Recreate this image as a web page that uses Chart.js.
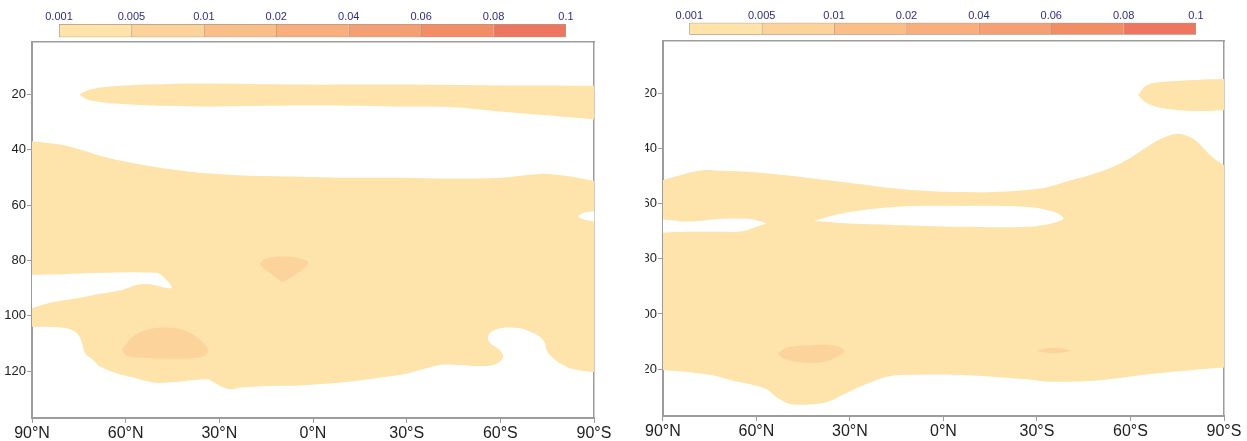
<!DOCTYPE html>
<html>
<head>
<meta charset="utf-8">
<script src="https://cdn.jsdelivr.net/npm/chart.js@4/dist/chart.umd.min.js"></script>
<style>
  html, body { margin: 0; padding: 0; background: #fff; }
  body { width: 1247px; height: 441px; position: relative; overflow: hidden; }
  canvas { position: absolute; top: 0; }
</style>
</head>
<body>
<canvas id="leftPanel" width="620" height="441" style="left:0px"></canvas>
<canvas id="leftBar" width="620" height="42" style="left:0px"></canvas>
<canvas id="rightPanel" width="603" height="441" style="left:644px"></canvas>
<canvas id="rightBar" width="603" height="42" style="left:644px"></canvas>
<script>
// Colour-scale boundaries (shown above each panel)
const colorbarLevels = ['0.001', '0.005', '0.01', '0.02', '0.04', '0.06', '0.08', '0.1'];

// Axis ticks
const latTicks = [90, 60, 30, 0, -30, -60, -90];
const latTickLabels = ['90°N', '60°N', '30°N', '0°N', '30°S', '60°S', '90°S'];
const levelTicks = [20, 40, 60, 80, 100, 120];
const levelRange = [1, 137];

// Contour outlines, [latitude (°N positive), model level]
// Left panel
const leftUpperBand = [
  [74.9, 20.0], [71.4, 18.2], [65.0, 17.1], [52.2, 16.4], [36.2, 16.0], [4.2, 16.4],
  [-27.9, 16.4], [-59.9, 16.75], [-85, 16.8], [-90, 16.8], [-92, 16.8], [-92, 29.2],
  [-90, 29.0], [-85.5, 28.5], [-72.7, 27.3], [-59.9, 26.1], [-43.9, 24.5], [-27.9, 24.3],
  [4.2, 24.0], [36.2, 24.3], [58.6, 23.6], [71.4, 22.2], [74.9, 20.0]
];
const leftMainBody = [
  [92, 36.9], [90, 36.9], [81.0, 38.1], [74.6, 39.9], [68.2, 42.1], [58.6, 44.6], [49.0, 46.5],
  [36.2, 48.3], [20.2, 49.4], [4.2, 49.7], [-11.8, 50.1], [-27.9, 50.1], [-43.9, 50.4],
  [-59.9, 50.1], [-72.7, 48.7], [-80.7, 49.4], [-88, 50.8], [-90, 51.2], [-92, 51.2],
  [-92, 120.4], [-90, 120.4], [-83.4, 119.4], [-79.1, 117.2], [-76.4, 114.8], [-74.8, 112.4],
  [-74.3, 109.9], [-72.7, 107.6], [-69.5, 105.7], [-66.3, 104.5], [-62.0, 104.3], [-58.8, 104.9],
  [-56.7, 106.3], [-56.0, 108.1], [-56.7, 109.9], [-58.9, 111.6], [-60.9, 114.2], [-60.4, 116.0],
  [-57.7, 117.8], [-53.5, 118.2], [-47.1, 117.8], [-40.7, 117.8], [-34.3, 119.6], [-27.9, 121.4],
  [-18.3, 122.9], [-8.6, 124.2], [4.2, 125.2], [14.8, 125.4], [23.4, 126.0], [26.0, 126.6],
  [28.8, 125.9], [32.0, 123.9], [34.0, 123.0], [41.6, 123.7], [46.9, 124.2], [51.2, 124.2],
  [57.7, 122.3], [62.9, 120.8], [68.2, 118.4], [70.4, 116.0], [73.0, 113.6], [74.1, 109.4],
  [75.7, 106.3], [78.9, 104.5], [88, 104.0], [90, 104.0], [92, 104.0], [92, 36.9]
];
const leftGapNorth = [
  [92, 85.2], [90, 85.2], [80, 85.0], [68.2, 84.5], [50.0, 84.5], [48.0, 85.9], [46.4, 87.7],
  [45.2, 89.9], [46.8, 90.0], [52.2, 88.6], [56.4, 88.8], [60.9, 90.6], [68.2, 92.1],
  [74.6, 93.5], [84.2, 95.3], [90, 97.2], [92, 97.2]
];
const leftNotchSouth = [
  [-93, 62.0], [-90, 62.2], [-87.1, 62.7], [-84.9, 64.0], [-87.1, 65.3], [-90, 65.8], [-93, 66.0]
];
const leftCoreUpper = [
  [17.0, 81.0], [14.8, 79.2], [8.4, 78.6], [2.6, 79.8], [1.6, 81.2], [4.2, 84.0], [8.4, 87.0],
  [10.0, 87.6], [12.8, 85.2], [16.0, 82.7], [17.0, 81.0]
];
const leftCoreLower = [
  [61.3, 112.4], [57.7, 107.6], [52.2, 104.8], [43.7, 104.5], [39.4, 106.2], [36.2, 108.7],
  [33.6, 112.4], [35.2, 114.8], [41.6, 115.6], [52.2, 115.3], [59.6, 114.5], [61.3, 112.4]
];

// Right panel
const rightUpperBand = [
  [-62.4, 20.6], [-65.3, 17.0], [-70.5, 15.8], [-81.3, 15.1], [-90, 14.8], [-92, 14.8],
  [-92, 26.0], [-90, 26.0], [-81.3, 26.4], [-70.5, 25.4], [-65.3, 23.6], [-62.4, 20.6]
];
const rightMainBody = [
  [92, 51.4], [90, 51.4], [81.9, 48.9], [76.7, 47.8], [71.2, 48.1], [61.7, 48.5], [45.7, 50.3],
  [29.7, 52.5], [13.7, 54.7], [5.1, 55.4], [-5.5, 55.8], [-16.1, 55.8], [-32.3, 54.3],
  [-39.9, 51.8], [-47.1, 49.6], [-53.5, 47.1], [-59.9, 43.4], [-66.3, 38.7], [-71.1, 35.8],
  [-75.9, 34.7], [-80.7, 36.9], [-85.5, 42.3], [-90, 46.0], [-92, 46.7], [-92, 119.2],
  [-90, 119.4], [-82.3, 120.0], [-66.3, 121.8], [-50.3, 124.0], [-34.3, 124.6], [-26.9, 123.7],
  [-5.5, 122.1], [13.7, 122.1], [19.1, 123.0], [24.3, 125.2], [29.7, 127.8], [37.1, 131.8],
  [42.5, 132.7], [48.9, 132.7], [53.1, 130.6], [56.3, 127.6], [59.5, 126.1], [68.1, 124.0],
  [74.5, 122.1], [90, 120.3], [92, 120.3], [92, 51.4]
];
const rightGapNorth = [
  [92, 65.7], [90, 65.7], [81.9, 66.5], [75.5, 65.9], [71.3, 65.5], [64.9, 65.4], [61.0, 65.7],
  [58.4, 66.5], [56.8, 67.2], [58.4, 67.7], [61.0, 68.8], [64.9, 70.1], [71.3, 70.2],
  [81.9, 70.2], [90, 70.5], [92, 70.5]
];
const rightIsland = [
  [41.5, 66.2], [31.9, 63.4], [15.9, 61.2], [-5.5, 60.8], [-26.9, 61.2], [-35.3, 62.9],
  [-38.5, 65.3], [-35.3, 67.0], [-26.9, 68.4], [-5.5, 68.4], [15.9, 67.7], [31.9, 67.1], [41.5, 66.2]
];
const rightCoreWest = [
  [53.1, 114.1], [49.9, 112.1], [42.5, 111.3], [35.1, 111.5], [31.9, 113.3], [35.1, 116.1],
  [39.3, 117.5], [45.7, 117.5], [51.1, 116.3], [53.1, 114.1]
];
const rightCoreEast = [
  [-29.8, 113.3], [-32.7, 112.5], [-35.3, 112.3], [-38.2, 112.5], [-40.4, 113.3],
  [-38.2, 114.0], [-35.3, 114.2], [-32.7, 114.0], [-29.8, 113.3]
];

// Styling
const colorbarColors = ['#FEE3AA', '#FCD49B', '#FABF88', '#F8AF7D', '#F5A074', '#F28D66', '#EE7661'];
const FILL_LOW = colorbarColors[0];
const FILL_MID = colorbarColors[1];
const BLANK = '#ffffff';
const AXIS_GREY = '#9c9c9c';
const FONT = "'Liberation Sans', Arial, Helvetica, sans-serif";

Chart.defaults.font.family = FONT;

function shapeDataset(points, color, order) {
  return {
    data: points.map(([lat, lev]) => ({ x: lat, y: lev })),
    showLine: true,
    fill: 'shape',
    backgroundColor: color,
    borderWidth: 0,
    pointRadius: 0,
    pointHoverRadius: 0,
    tension: 0.35,
    order: order
  };
}

function panelChart(id, layers, g) {
  return new Chart(document.getElementById(id), {
    type: 'scatter',
    data: { datasets: layers.map(l => shapeDataset(l[0], l[1], l[2])) },
    options: {
      responsive: false,
      animation: false,
      events: [],
      layout: { padding: { left: 0, top: g.top, right: g.right, bottom: 0 } },
      plugins: { legend: { display: false }, tooltip: { enabled: false } },
      scales: {
        x: {
          type: 'linear', position: 'bottom', min: -90, max: 90, reverse: true,
          afterBuildTicks: s => { s.ticks = latTicks.map(v => ({ value: v })); },
          ticks: {
            callback: v => latTickLabels[latTicks.indexOf(v)],
            font: { size: 16 }, color: '#222', padding: 1, maxRotation: 0, autoSkip: false
          },
          grid: { drawOnChartArea: false, drawTicks: true, tickLength: 5, color: AXIS_GREY, lineWidth: 1 },
          border: { color: AXIS_GREY, width: 2 },
          afterFit: s => { s.height = g.xAxisH; }
        },
        y: {
          type: 'linear', position: 'left', min: levelRange[0], max: levelRange[1], reverse: true,
          afterBuildTicks: s => { s.ticks = levelTicks.map(v => ({ value: v })); },
          ticks: { font: { size: 13 }, color: '#222', padding: 1, autoSkip: false },
          grid: { drawOnChartArea: false, drawTicks: true, tickLength: 5, color: AXIS_GREY, lineWidth: 1 },
          border: { color: AXIS_GREY, width: 2 },
          afterFit: s => { s.width = g.yAxisW; }
        },
        xTop: {
          type: 'linear', position: 'top', display: true,
          ticks: { display: false }, grid: { display: false, drawTicks: false },
          border: { color: AXIS_GREY, width: 1.5 },
          afterFit: s => { s.height = 0; }
        },
        yRight: {
          type: 'linear', position: 'right', display: true,
          ticks: { display: false }, grid: { display: false, drawTicks: false },
          border: { color: AXIS_GREY, width: 1.5 },
          afterFit: s => { s.width = 0; }
        }
      }
    }
  });
}

function colorbarChart(id, g) {
  const last = colorbarColors.length - 1;
  return new Chart(document.getElementById(id), {
    type: 'bar',
    data: {
      labels: [''],
      datasets: colorbarColors.map((c, i) => ({
        data: [1],
        backgroundColor: c,
        borderColor: 'rgba(125,85,55,0.6)',
        borderWidth: { left: 1, top: 1, bottom: 1, right: i === last ? 1 : 0 },
        borderSkipped: false,
        barPercentage: 1,
        categoryPercentage: 1
      }))
    },
    options: {
      indexAxis: 'y',
      responsive: false,
      animation: false,
      events: [],
      layout: { padding: { left: g.left, right: g.right, top: 0, bottom: g.bottom } },
      plugins: { legend: { display: false }, tooltip: { enabled: false } },
      scales: {
        x: {
          type: 'linear', position: 'top', stacked: true, min: 0, max: colorbarLevels.length - 1,
          afterBuildTicks: s => { s.ticks = colorbarLevels.map((_, i) => ({ value: i })); },
          ticks: {
            callback: v => colorbarLevels[v],
            color: '#2d2d86', font: { size: 11 }, padding: 0, maxRotation: 0, autoSkip: false
          },
          grid: { display: false, drawTicks: false },
          border: { display: false },
          afterFit: s => { s.height = g.axisH; }
        },
        y: { stacked: true, display: false }
      }
    }
  });
}

panelChart('leftPanel', [
  [leftUpperBand, FILL_LOW, 3],
  [leftMainBody, FILL_LOW, 3],
  [leftGapNorth, BLANK, 2],
  [leftNotchSouth, BLANK, 2],
  [leftCoreUpper, FILL_MID, 1],
  [leftCoreLower, FILL_MID, 1]
], { top: 42, right: 26, xAxisH: 23, yAxisW: 32 });

panelChart('rightPanel', [
  [rightUpperBand, FILL_LOW, 3],
  [rightMainBody, FILL_LOW, 3],
  [rightGapNorth, BLANK, 2],
  [rightIsland, BLANK, 2],
  [rightCoreWest, FILL_MID, 1],
  [rightCoreEast, FILL_MID, 1]
], { top: 41, right: 23, xAxisH: 25, yAxisW: 17.5 });

colorbarChart('leftBar', { left: 59, right: 54, bottom: 4.7, axisH: 24 });
colorbarChart('rightBar', { left: 45.3, right: 51, bottom: 7.3, axisH: 22.7 });
</script>
</body>
</html>
